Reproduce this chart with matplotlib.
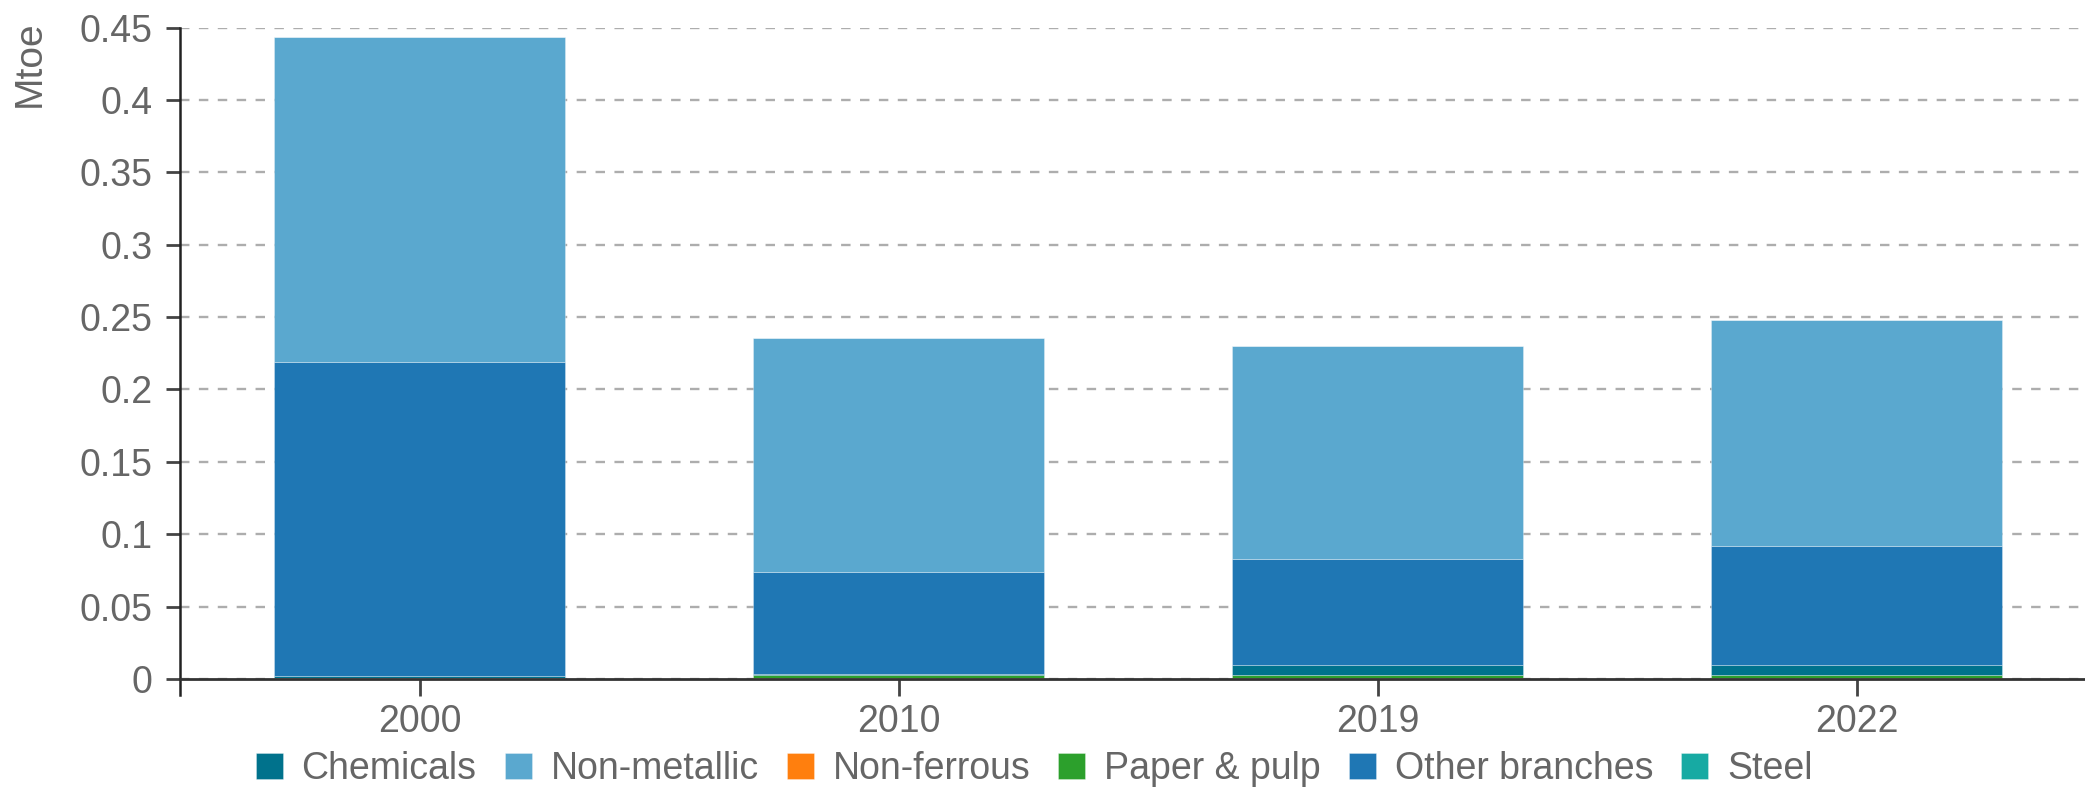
import numpy as np
import matplotlib
matplotlib.use("Agg")
import matplotlib.pyplot as plt

years = ["2000", "2010", "2019", "2022"]

# stacked bottom -> top as drawn in the reference
non_ferrous = [0.0005, 0.0005, 0.0005, 0.0005]
paper_pulp = [0.0003, 0.0025, 0.002, 0.002]
chemicals = [0.0012, 0.0003, 0.0075, 0.0075]
other_branches = [0.2167, 0.0704, 0.0730, 0.0818]
non_metallic = [0.2249, 0.1616, 0.1469, 0.1565]
steel = [0.0, 0.0, 0.0, 0.0]

colors = {
    "Chemicals": "#00728c",
    "Non-metallic": "#5aa8cf",
    "Non-ferrous": "#ff7f0e",
    "Paper & pulp": "#2ca02c",
    "Other branches": "#1f77b4",
    "Steel": "#17aaa3",
}
legend_order = ["Chemicals", "Non-metallic", "Non-ferrous", "Paper & pulp", "Other branches", "Steel"]
stack = [("Non-ferrous", non_ferrous), ("Paper & pulp", paper_pulp), ("Chemicals", chemicals),
         ("Other branches", other_branches), ("Non-metallic", non_metallic), ("Steel", steel)]

plt.rcParams["font.family"] = ["Liberation Sans", "DejaVu Sans"]
txt = "#666666"

fig = plt.figure(figsize=(20.85, 7.93), dpi=100)
ax = fig.add_axes([180 / 2085, 1 - 679 / 793, 1 - 180 / 2085, (679 - 27.5) / 793])

x = np.arange(len(years))
bottom = np.zeros(len(years))
handles = {}
for name, vals in stack:
    h = ax.bar(x, vals, width=0.607, bottom=bottom, color=colors[name],
               edgecolor=(1, 1, 1, 0.35), linewidth=0.6, zorder=3, label=name)
    handles[name] = h
    bottom += np.array(vals)

ax.set_xlim(-0.5, 3.477)
ax.set_ylim(0, 0.45)
ax.set_yticks(np.arange(0, 0.451, 0.05))
ax.set_yticklabels(["0", "0.05", "0.1", "0.15", "0.2", "0.25", "0.3", "0.35", "0.4", "0.45"])
ax.set_xticks(x)
ax.set_xticklabels(years)

ax.grid(axis="y", color="#adadad", linestyle=(0, (4, 4)), linewidth=1.7, zorder=0)
for s in ["top", "right"]:
    ax.spines[s].set_visible(False)
ax.spines["left"].set_color("#222222")
ax.spines["left"].set_linewidth(1.8)
ax.spines["left"].set_bounds(-0.011, 0.45)
ax.spines["bottom"].set_color("#333333")
ax.spines["bottom"].set_linewidth(2)
ax.spines["bottom"].set_zorder(4)

ax.tick_params(axis="y", length=10, width=2, color="#444444", labelsize=27, labelcolor=txt, pad=10)
ax.tick_params(axis="x", length=12, width=2, color="#444444", labelsize=27, labelcolor=txt, pad=6)

fig.text(30 / 2085, 1 - 64 / 793, "Mtoe", rotation=90, ha="center", va="center", fontsize=28, color=txt)

leg = fig.legend([handles[n] for n in legend_order], legend_order, loc="center",
                 bbox_to_anchor=(0.496, 1 - 769 / 793), ncol=6, frameon=False,
                 fontsize=27, labelcolor=txt, handlelength=0.72, handleheight=0.72,
                 handletextpad=0.5, columnspacing=0.75, borderpad=0)

fig.savefig("out.png", dpi=100)
